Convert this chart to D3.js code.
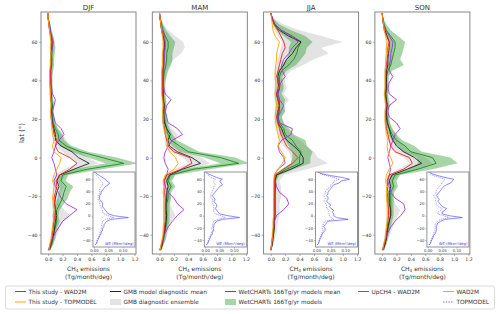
<!DOCTYPE html>
<html>
<head>
<meta charset="utf-8">
<script src="https://cdn.jsdelivr.net/npm/d3@7"></script>
<style>
    body { margin: 0; background: #fff; }
    svg { display: block; font-family: 'DejaVu Sans', sans-serif; }
</style>
</head>
<body>
<svg id="chart" width="500" height="314"></svg>
<script>
// latitude bands (deg), shared by every series below
const lats = [ -48, -45, -42, -39, -36, -33, -30, -27, -24, -21, -18, -15, -12, -9, -6, -3, 0, 3, 6, 9, 12, 15, 18, 21, 24, 27, 30, 33, 36, 39, 42, 45, 48, 51, 54, 57, 60, 63, 66, 69, 72, 75 ];
const seasons = [ 'DJF', 'MAM', 'JJA', 'SON' ];
const xTicks = [ 0, 0.2, 0.4, 0.6, 0.8, 1.0, 1.2 ];
const yTicks = [ -40, -20, 0, 20, 40, 60 ];
const insetXTicks = [ 0, 0.05, 0.10 ];

// CH4 emissions, Tg/month/deg
const studyWad2m_DJF = [ 0.01,0.03,0.05,0.06,0.07,0.08,0.09,0.10,0.09,0.08, 0.10,0.12,0.11,0.16,0.30,0.40,0.30,0.14,0.10,0.12, 0.08,0.07,0.05,0.04,0.04,0.05,0.04,0.03,0.04,0.03, 0.03,0.03,0.04,0.04,0.05,0.04,0.06,0.04,0.02,0.01,0.00,0.00 ];
const studyTop_DJF   = [ 0.01,0.02,0.04,0.05,0.06,0.07,0.08,0.08,0.07,0.06, 0.07,0.08,0.06,0.08,0.12,0.16,0.18,0.08,0.06,0.08, 0.06,0.05,0.05,0.04,0.03,0.04,0.04,0.03,0.03,0.02, 0.02,0.02,0.03,0.03,0.04,0.03,0.04,0.03,0.02,0.01,0.00,0.00 ];
const gmbMean_DJF    = [ 0.01,0.04,0.06,0.08,0.09,0.10,0.12,0.10,0.09,0.10, 0.12,0.15,0.12,0.16,0.36,0.57,0.42,0.33,0.18,0.10, 0.10,0.08,0.06,0.05,0.05,0.05,0.04,0.04,0.03,0.03, 0.03,0.03,0.04,0.04,0.04,0.05,0.05,0.04,0.02,0.01,0.00,0.00 ];
const gmbLo_DJF      = [ 0.00,0.02,0.03,0.04,0.05,0.06,0.06,0.06,0.05,0.06, 0.07,0.08,0.07,0.09,0.22,0.40,0.30,0.20,0.10,0.06, 0.06,0.05,0.03,0.03,0.03,0.03,0.02,0.02,0.02,0.02, 0.02,0.02,0.02,0.02,0.03,0.03,0.03,0.02,0.01,0.00,0.00,0.00 ];
const gmbHi_DJF      = [ 0.02,0.07,0.10,0.14,0.16,0.22,0.30,0.22,0.16,0.15, 0.18,0.22,0.18,0.24,0.48,0.70,0.55,0.45,0.28,0.25, 0.20,0.13,0.10,0.08,0.08,0.08,0.07,0.06,0.05,0.05, 0.05,0.06,0.07,0.07,0.07,0.08,0.08,0.07,0.04,0.02,0.01,0.00 ];
const wetMean_DJF    = [ 0.02,0.05,0.07,0.08,0.10,0.12,0.10,0.12,0.16,0.20, 0.22,0.25,0.18,0.20,0.55,1.05,0.75,0.45,0.25,0.15, 0.14,0.10,0.07,0.06,0.05,0.06,0.05,0.04,0.04,0.04, 0.04,0.04,0.05,0.05,0.05,0.06,0.05,0.04,0.03,0.02,0.00,0.00 ];
const wetLo_DJF      = [ 0.00,0.02,0.04,0.05,0.06,0.07,0.06,0.08,0.10,0.13, 0.15,0.17,0.12,0.14,0.35,0.80,0.55,0.32,0.16,0.10, 0.09,0.06,0.04,0.04,0.03,0.03,0.03,0.02,0.02,0.02, 0.02,0.02,0.03,0.03,0.03,0.03,0.03,0.02,0.01,0.01,0.00,0.00 ];
const wetHi_DJF      = [ 0.03,0.07,0.10,0.11,0.13,0.16,0.14,0.16,0.22,0.27, 0.30,0.35,0.24,0.28,0.75,1.25,0.95,0.55,0.33,0.22, 0.20,0.14,0.10,0.08,0.07,0.08,0.07,0.06,0.06,0.06, 0.06,0.07,0.08,0.08,0.09,0.10,0.09,0.07,0.05,0.03,0.01,0.00 ];
const upch4_DJF      = [ 0.00,0.03,0.06,0.10,0.15,0.20,0.30,0.40,0.25,0.18, 0.14,0.10,0.08,0.12,0.10,0.08,0.05,0.08,0.10,0.15, 0.22,0.18,0.10,0.08,0.06,0.08,0.10,0.06,0.05,0.04, 0.03,0.03,0.04,0.05,0.04,0.06,0.07,0.05,0.03,0.02,0.00,0.00 ];

const studyWad2m_MAM = [ 0.01,0.03,0.05,0.06,0.07,0.08,0.08,0.08,0.08,0.08, 0.07,0.08,0.07,0.10,0.30,0.45,0.42,0.20,0.12,0.10, 0.08,0.07,0.05,0.05,0.06,0.06,0.05,0.04,0.04,0.04, 0.04,0.04,0.05,0.05,0.05,0.06,0.06,0.05,0.03,0.02,0.01,0.00 ];
const studyTop_MAM   = [ 0.01,0.02,0.04,0.05,0.05,0.06,0.06,0.06,0.06,0.06, 0.05,0.06,0.05,0.08,0.20,0.26,0.22,0.14,0.10,0.12, 0.08,0.06,0.05,0.05,0.04,0.05,0.04,0.03,0.03,0.03, 0.03,0.03,0.04,0.04,0.04,0.05,0.05,0.04,0.03,0.02,0.01,0.00 ];
const gmbMean_MAM    = [ 0.01,0.04,0.05,0.07,0.08,0.09,0.10,0.09,0.09,0.10, 0.10,0.12,0.10,0.14,0.32,0.57,0.45,0.25,0.14,0.12, 0.15,0.10,0.07,0.06,0.06,0.07,0.05,0.05,0.05,0.05, 0.05,0.05,0.06,0.06,0.06,0.07,0.07,0.05,0.03,0.02,0.01,0.00 ];
const gmbLo_MAM      = [ 0.00,0.02,0.03,0.04,0.05,0.05,0.05,0.05,0.05,0.05, 0.05,0.06,0.05,0.08,0.20,0.40,0.32,0.15,0.08,0.07, 0.07,0.05,0.04,0.03,0.03,0.04,0.03,0.03,0.03,0.03, 0.03,0.03,0.03,0.03,0.03,0.04,0.04,0.03,0.02,0.01,0.00,0.00 ];
const gmbHi_MAM      = [ 0.02,0.06,0.09,0.12,0.14,0.16,0.22,0.18,0.15,0.16, 0.14,0.18,0.14,0.22,0.48,0.70,0.58,0.38,0.25,0.22, 0.25,0.18,0.12,0.10,0.10,0.11,0.09,0.08,0.08,0.08, 0.09,0.10,0.14,0.20,0.30,0.35,0.33,0.22,0.12,0.06,0.02,0.00 ];
const wetMean_MAM    = [ 0.02,0.04,0.06,0.07,0.09,0.10,0.10,0.10,0.10,0.12, 0.12,0.16,0.12,0.15,0.48,1.10,0.85,0.40,0.28,0.16, 0.12,0.10,0.08,0.07,0.06,0.06,0.06,0.05,0.05,0.05, 0.06,0.07,0.09,0.10,0.10,0.12,0.12,0.08,0.05,0.03,0.01,0.00 ];
const wetLo_MAM      = [ 0.00,0.02,0.04,0.05,0.06,0.07,0.07,0.07,0.07,0.08, 0.09,0.11,0.08,0.10,0.32,0.85,0.62,0.28,0.18,0.10, 0.08,0.06,0.05,0.04,0.04,0.04,0.04,0.03,0.03,0.03, 0.03,0.04,0.04,0.05,0.05,0.06,0.06,0.04,0.02,0.01,0.00,0.00 ];
const wetHi_MAM      = [ 0.03,0.06,0.09,0.10,0.12,0.14,0.14,0.14,0.14,0.16, 0.16,0.22,0.17,0.22,0.70,1.25,1.05,0.55,0.40,0.24, 0.18,0.14,0.11,0.10,0.09,0.09,0.09,0.08,0.08,0.08, 0.10,0.12,0.16,0.18,0.18,0.20,0.22,0.15,0.09,0.05,0.02,0.00 ];
const upch4_MAM      = [ 0.00,0.03,0.05,0.08,0.12,0.18,0.25,0.34,0.25,0.20, 0.12,0.08,0.06,0.10,0.12,0.08,0.06,0.08,0.12,0.18, 0.32,0.25,0.12,0.10,0.08,0.10,0.16,0.08,0.06,0.05, 0.05,0.06,0.06,0.07,0.07,0.08,0.08,0.07,0.04,0.02,0.01,0.00 ];

const studyWad2m_JJA = [ 0.00,0.01,0.02,0.03,0.04,0.04,0.05,0.05,0.05,0.05, 0.05,0.05,0.05,0.06,0.18,0.30,0.38,0.30,0.22,0.18, 0.14,0.12,0.10,0.08,0.10,0.12,0.10,0.08,0.10,0.12, 0.08,0.10,0.12,0.14,0.16,0.20,0.18,0.14,0.10,0.05,0.02,0.00 ];
const studyTop_JJA   = [ 0.00,0.01,0.02,0.02,0.03,0.03,0.04,0.04,0.04,0.04, 0.04,0.04,0.04,0.05,0.10,0.16,0.20,0.15,0.10,0.12, 0.10,0.08,0.07,0.06,0.07,0.08,0.07,0.06,0.07,0.07, 0.06,0.06,0.07,0.08,0.08,0.10,0.12,0.06,0.03,0.02,0.01,0.00 ];
const gmbMean_JJA    = [ 0.00,0.02,0.03,0.04,0.05,0.05,0.06,0.06,0.06,0.06, 0.06,0.06,0.06,0.08,0.28,0.45,0.45,0.40,0.32,0.22, 0.18,0.15,0.10,0.10,0.10,0.12,0.10,0.08,0.12,0.10, 0.10,0.12,0.18,0.22,0.30,0.35,0.42,0.25,0.12,0.05,0.02,0.00 ];
const gmbLo_JJA      = [ 0.00,0.01,0.02,0.02,0.03,0.03,0.03,0.03,0.03,0.03, 0.03,0.03,0.03,0.04,0.15,0.28,0.28,0.25,0.18,0.12, 0.10,0.08,0.05,0.05,0.05,0.06,0.05,0.04,0.05,0.05, 0.05,0.06,0.08,0.10,0.12,0.14,0.16,0.10,0.05,0.02,0.01,0.00 ];
const gmbHi_JJA      = [ 0.01,0.04,0.06,0.08,0.09,0.10,0.12,0.12,0.12,0.14, 0.15,0.14,0.12,0.18,0.50,0.80,0.65,0.60,0.50,0.40, 0.30,0.22,0.18,0.15,0.20,0.20,0.25,0.18,0.22,0.20, 0.20,0.28,0.45,0.60,0.80,0.70,1.00,0.70,0.40,0.18,0.05,0.00 ];
const wetMean_JJA    = [ 0.00,0.02,0.03,0.04,0.04,0.04,0.05,0.05,0.05,0.05, 0.05,0.06,0.06,0.08,0.22,0.40,0.40,0.42,0.35,0.30, 0.20,0.18,0.12,0.10,0.12,0.12,0.12,0.10,0.12,0.12, 0.12,0.15,0.25,0.32,0.36,0.38,0.42,0.30,0.15,0.06,0.02,0.00 ];
const wetLo_JJA      = [ 0.00,0.01,0.02,0.02,0.03,0.03,0.03,0.03,0.03,0.03, 0.04,0.04,0.04,0.05,0.15,0.28,0.30,0.30,0.25,0.20, 0.14,0.12,0.08,0.07,0.08,0.08,0.08,0.07,0.08,0.08, 0.08,0.10,0.15,0.22,0.25,0.25,0.28,0.18,0.08,0.03,0.01,0.00 ];
const wetHi_JJA      = [ 0.01,0.03,0.04,0.05,0.06,0.06,0.07,0.07,0.07,0.07, 0.07,0.08,0.08,0.12,0.32,0.55,0.55,0.58,0.50,0.48, 0.32,0.26,0.18,0.15,0.20,0.18,0.20,0.15,0.18,0.17, 0.16,0.22,0.35,0.42,0.48,0.50,0.58,0.48,0.28,0.12,0.04,0.00 ];
const upch4_JJA      = [ 0.00,0.01,0.02,0.03,0.04,0.05,0.08,0.18,0.25,0.22, 0.12,0.08,0.06,0.05,0.10,0.20,0.18,0.12,0.10,0.15, 0.28,0.30,0.12,0.10,0.14,0.18,0.12,0.10,0.12,0.14, 0.20,0.16,0.15,0.18,0.25,0.30,0.38,0.28,0.15,0.06,0.02,0.00 ];

const studyWad2m_SON = [ 0.01,0.03,0.05,0.06,0.07,0.08,0.09,0.09,0.08,0.08, 0.07,0.08,0.07,0.10,0.30,0.42,0.38,0.18,0.12,0.10, 0.08,0.06,0.05,0.05,0.05,0.06,0.05,0.04,0.05,0.05, 0.05,0.05,0.06,0.07,0.08,0.08,0.10,0.06,0.03,0.02,0.01,0.00 ];
const studyTop_SON   = [ 0.01,0.02,0.04,0.05,0.06,0.07,0.07,0.07,0.07,0.06, 0.06,0.06,0.05,0.06,0.10,0.15,0.12,0.08,0.07,0.08, 0.06,0.05,0.04,0.04,0.04,0.05,0.04,0.03,0.04,0.04, 0.04,0.04,0.05,0.05,0.06,0.06,0.07,0.05,0.03,0.02,0.01,0.00 ];
const gmbMean_SON    = [ 0.01,0.04,0.06,0.07,0.08,0.10,0.12,0.12,0.10,0.10, 0.10,0.12,0.10,0.14,0.35,0.55,0.45,0.30,0.20,0.15, 0.12,0.10,0.07,0.06,0.06,0.07,0.06,0.05,0.06,0.06, 0.06,0.06,0.08,0.08,0.09,0.10,0.10,0.07,0.04,0.02,0.01,0.00 ];
const gmbLo_SON      = [ 0.00,0.02,0.03,0.04,0.05,0.06,0.07,0.07,0.06,0.06, 0.06,0.07,0.06,0.08,0.22,0.38,0.30,0.18,0.12,0.08, 0.07,0.05,0.04,0.03,0.03,0.04,0.03,0.03,0.03,0.03, 0.03,0.03,0.04,0.04,0.05,0.05,0.05,0.04,0.02,0.01,0.00,0.00 ];
const gmbHi_SON      = [ 0.02,0.06,0.09,0.12,0.15,0.18,0.22,0.25,0.18,0.16, 0.15,0.18,0.16,0.22,0.50,0.70,0.60,0.42,0.30,0.22, 0.20,0.15,0.11,0.09,0.09,0.12,0.10,0.08,0.09,0.09, 0.09,0.10,0.13,0.14,0.15,0.16,0.16,0.12,0.06,0.03,0.01,0.00 ];
const wetMean_SON    = [ 0.02,0.04,0.06,0.07,0.09,0.10,0.12,0.12,0.12,0.12, 0.12,0.16,0.14,0.18,0.50,0.75,0.70,0.40,0.32,0.20, 0.14,0.10,0.08,0.07,0.06,0.07,0.06,0.05,0.06,0.06, 0.06,0.08,0.12,0.14,0.16,0.18,0.18,0.12,0.06,0.03,0.01,0.00 ];
const wetLo_SON      = [ 0.00,0.02,0.04,0.05,0.06,0.07,0.08,0.08,0.08,0.08, 0.08,0.11,0.09,0.12,0.35,0.50,0.48,0.28,0.22,0.13, 0.09,0.06,0.05,0.04,0.04,0.04,0.04,0.03,0.04,0.04, 0.04,0.05,0.07,0.08,0.10,0.11,0.11,0.07,0.03,0.01,0.00,0.00 ];
const wetHi_SON      = [ 0.03,0.06,0.08,0.10,0.12,0.14,0.16,0.16,0.16,0.16, 0.17,0.22,0.20,0.25,0.70,1.05,0.95,0.55,0.45,0.28, 0.20,0.14,0.11,0.10,0.09,0.10,0.09,0.08,0.09,0.09, 0.09,0.14,0.30,0.25,0.28,0.30,0.32,0.22,0.12,0.06,0.02,0.00 ];
const upch4_SON      = [ 0.00,0.03,0.05,0.08,0.12,0.18,0.26,0.32,0.30,0.18, 0.12,0.10,0.08,0.10,0.12,0.10,0.08,0.10,0.12,0.15, 0.18,0.25,0.20,0.10,0.08,0.10,0.20,0.10,0.08,0.10, 0.15,0.10,0.10,0.12,0.12,0.14,0.15,0.10,0.05,0.02,0.01,0.00 ];

// wetland extent insets, Mkm2/deg
const weWad2m_DJF = [ 0.005,0.01,0.012,0.015,0.018,0.02,0.025,0.025,0.03,0.03, 0.035,0.035,0.04,0.045,0.06,0.12,0.07,0.05,0.045,0.04, 0.035,0.03,0.03,0.03,0.025,0.02,0.02,0.02,0.025,0.025, 0.03,0.035,0.04,0.05,0.055,0.045,0.04,0.03,0.02,0.01,0.005,0.0 ];
const weTop_DJF   = [ 0.004,0.008,0.01,0.012,0.015,0.018,0.02,0.022,0.025,0.025, 0.03,0.025,0.03,0.03,0.04,0.07,0.05,0.035,0.03,0.03, 0.025,0.025,0.02,0.02,0.02,0.015,0.015,0.015,0.02,0.02, 0.02,0.02,0.025,0.03,0.03,0.025,0.02,0.015,0.01,0.005,0.002,0.0 ];
const weWad2m_MAM = [ 0.005,0.01,0.012,0.015,0.018,0.02,0.025,0.025,0.03,0.028, 0.03,0.03,0.035,0.04,0.06,0.12,0.08,0.05,0.045,0.04, 0.035,0.04,0.04,0.035,0.03,0.035,0.03,0.025,0.03,0.035, 0.04,0.045,0.05,0.06,0.055,0.05,0.06,0.04,0.025,0.01,0.005,0.0 ];
const weTop_MAM   = [ 0.004,0.008,0.01,0.012,0.015,0.018,0.02,0.022,0.025,0.022, 0.025,0.025,0.028,0.03,0.045,0.07,0.055,0.035,0.03,0.03, 0.03,0.03,0.03,0.025,0.025,0.025,0.02,0.02,0.02,0.025, 0.025,0.03,0.03,0.035,0.03,0.03,0.035,0.02,0.012,0.005,0.002,0.0 ];
const weWad2m_JJA = [ 0.004,0.008,0.01,0.012,0.015,0.018,0.02,0.025,0.03,0.03, 0.025,0.03,0.035,0.04,0.11,0.07,0.06,0.06,0.055,0.06, 0.05,0.045,0.05,0.04,0.035,0.04,0.04,0.035,0.04,0.04, 0.045,0.05,0.055,0.06,0.08,0.085,0.115,0.09,0.05,0.02,0.005,0.0 ];
const weTop_JJA   = [ 0.003,0.006,0.008,0.01,0.012,0.015,0.018,0.02,0.022,0.02, 0.02,0.022,0.025,0.03,0.06,0.05,0.045,0.045,0.04,0.045, 0.035,0.035,0.035,0.03,0.025,0.03,0.03,0.025,0.03,0.03, 0.035,0.04,0.05,0.05,0.06,0.06,0.08,0.06,0.035,0.015,0.004,0.0 ];
const weWad2m_SON = [ 0.005,0.01,0.012,0.015,0.018,0.02,0.025,0.028,0.03,0.03, 0.03,0.032,0.035,0.045,0.06,0.12,0.075,0.05,0.05,0.06, 0.065,0.05,0.045,0.04,0.035,0.04,0.035,0.03,0.035,0.04, 0.045,0.05,0.055,0.065,0.08,0.085,0.09,0.06,0.035,0.015,0.005,0.0 ];
const weTop_SON   = [ 0.004,0.008,0.01,0.012,0.015,0.018,0.02,0.022,0.025,0.025, 0.025,0.025,0.028,0.035,0.045,0.075,0.055,0.035,0.035,0.045, 0.05,0.035,0.03,0.03,0.025,0.03,0.025,0.02,0.025,0.03, 0.03,0.035,0.04,0.045,0.05,0.055,0.06,0.04,0.02,0.008,0.003,0.0 ];

const table = {
    DJF: { red: studyWad2m_DJF, orange: studyTop_DJF, gmb: gmbMean_DJF, gmbLo: gmbLo_DJF, gmbHi: gmbHi_DJF, wet: wetMean_DJF, wetLo: wetLo_DJF, wetHi: wetHi_DJF, up: upch4_DJF, weW: weWad2m_DJF, weT: weTop_DJF },
    MAM: { red: studyWad2m_MAM, orange: studyTop_MAM, gmb: gmbMean_MAM, gmbLo: gmbLo_MAM, gmbHi: gmbHi_MAM, wet: wetMean_MAM, wetLo: wetLo_MAM, wetHi: wetHi_MAM, up: upch4_MAM, weW: weWad2m_MAM, weT: weTop_MAM },
    JJA: { red: studyWad2m_JJA, orange: studyTop_JJA, gmb: gmbMean_JJA, gmbLo: gmbLo_JJA, gmbHi: gmbHi_JJA, wet: wetMean_JJA, wetLo: wetLo_JJA, wetHi: wetHi_JJA, up: upch4_JJA, weW: weWad2m_JJA, weT: weTop_JJA },
    SON: { red: studyWad2m_SON, orange: studyTop_SON, gmb: gmbMean_SON, gmbLo: gmbLo_SON, gmbHi: gmbHi_SON, wet: wetMean_SON, wetLo: wetLo_SON, wetHi: wetHi_SON, up: upch4_SON, weW: weWad2m_SON, weT: weTop_SON }
};

const colors = {
    red: '#ff1a1a', orange: '#ffa500', gmb: '#222222', band: '#bdbdbd',
    wet: '#1b8a1b', wetBand: '#2e9b2e', up: '#a133e6', blue: '#3c3cff', axis: '#7a7a7a', text: '#333333'
};

const panelLeft = 41, panelStep = 111.3, panelW = 95, panelTop = 12, panelBottom = 254;
const inset = { left: 52, right: 94, top: 172, bottom: 247 };

const svg = d3.select( '#chart' );
const defs = svg.append( 'defs' );

const xScale = d3.scaleLinear().domain( [ -0.1, 1.22 ] ).range( [ 0, panelW ] );
const yScale = d3.scaleLinear().domain( [ -50, 75.5 ] ).range( [ panelBottom, panelTop ] );
const ixScale = d3.scaleLinear().domain( [ -0.003, 0.143 ] ).range( [ inset.left, inset.right ] );
const iyScale = d3.scaleLinear().domain( [ -51.5, 72 ] ).range( [ inset.bottom, inset.top ] );

const lineOf = ( vals, xs, ys ) => d3.line()
    .x( ( _, k ) => xs( vals[ k ] ) )
    .y( ( _, k ) => ys( lats[ k ] ) )( lats );

const bandOf = ( lo, hi ) => d3.area()
    .y( ( _, k ) => yScale( lats[ k ] ) )
    .x0( ( _, k ) => xScale( lo[ k ] ) )
    .x1( ( _, k ) => xScale( hi[ k ] ) )( lats );

const minus = d => d < 0 ? '\u2212' + Math.abs( d ) : String( d );

seasons.forEach( ( season, i ) => {
    const d = table[ season ];
    const g = svg.append( 'g' )
        .attr( 'transform', `translate(${ panelLeft + i * panelStep }, 0)` );

    defs.append( 'clipPath' ).attr( 'id', 'clip' + i )
        .append( 'rect' )
        .attr( 'x', 0 ).attr( 'y', panelTop )
        .attr( 'width', panelW ).attr( 'height', panelBottom - panelTop );

    const plot = g.append( 'g' ).attr( 'clip-path', `url(#clip${ i })` );

    plot.append( 'path' ).attr( 'd', bandOf( d.gmbLo, d.gmbHi ) )
        .attr( 'fill', colors.band ).attr( 'opacity', 0.42 );
    plot.append( 'path' ).attr( 'd', bandOf( d.wetLo, d.wetHi ) )
        .attr( 'fill', colors.wetBand ).attr( 'opacity', 0.42 );

    const series = [
        [ d.wet, colors.wet ], [ d.gmb, colors.gmb ], [ d.up, colors.up ],
        [ d.red, colors.red ], [ d.orange, colors.orange ]
    ];
    series.forEach( ( [ vals, c ] ) => {
        plot.append( 'path' ).attr( 'd', lineOf( vals, xScale, yScale ) )
            .attr( 'fill', 'none' ).attr( 'stroke', c )
            .attr( 'stroke-width', 0.9 ).attr( 'stroke-linejoin', 'round' );
    } );

    // axes
    const yAxis = g.append( 'g' )
        .call( d3.axisLeft( yScale ).tickValues( yTicks ).tickSize( 2 ).tickPadding( 1.5 ).tickFormat( minus ) );
    const xAxis = g.append( 'g' )
        .attr( 'transform', `translate(0, ${ panelBottom })` )
        .call( d3.axisBottom( xScale ).tickValues( xTicks ).tickSize( 2 ).tickPadding( 1.5 ).tickFormat( d3.format( '.1f' ) ) );
    [ xAxis, yAxis ].forEach( a => {
        a.select( '.domain' ).remove();
        a.selectAll( 'line' ).attr( 'stroke', colors.axis ).attr( 'stroke-width', 0.6 );
        a.selectAll( 'text' ).attr( 'font-size', 4.6 ).attr( 'fill', colors.text ).attr( 'font-family', 'DejaVu Sans' );
    } );

    g.append( 'rect' )
        .attr( 'x', 0 ).attr( 'y', panelTop )
        .attr( 'width', panelW ).attr( 'height', panelBottom - panelTop )
        .attr( 'fill', 'none' ).attr( 'stroke', colors.axis ).attr( 'stroke-width', 0.9 );

    g.append( 'text' )
        .attr( 'x', panelW / 2 ).attr( 'y', 9.5 )
        .attr( 'text-anchor', 'middle' ).attr( 'font-size', 7 ).attr( 'fill', colors.text )
        .text( season );

    const xl = g.append( 'text' )
        .attr( 'x', panelW / 2 ).attr( 'y', 270.5 )
        .attr( 'text-anchor', 'middle' ).attr( 'font-size', 6 ).attr( 'fill', colors.text );
    xl.append( 'tspan' ).text( 'CH' );
    xl.append( 'tspan' ).attr( 'font-size', 4.2 ).attr( 'dy', 1.4 ).text( '4' );
    xl.append( 'tspan' ).attr( 'dy', -1.4 ).text( ' emissions' );
    g.append( 'text' )
        .attr( 'x', panelW / 2 ).attr( 'y', 278.5 )
        .attr( 'text-anchor', 'middle' ).attr( 'font-size', 6 ).attr( 'fill', colors.text )
        .text( '(Tg/month/deg)' );

    // wetland extent inset
    const ig = g.append( 'g' );
    ig.append( 'rect' )
        .attr( 'x', inset.left ).attr( 'y', inset.top )
        .attr( 'width', inset.right - inset.left ).attr( 'height', inset.bottom - inset.top )
        .attr( 'fill', '#fff' );
    defs.append( 'clipPath' ).attr( 'id', 'iclip' + i )
        .append( 'rect' )
        .attr( 'x', inset.left ).attr( 'y', inset.top )
        .attr( 'width', inset.right - inset.left ).attr( 'height', inset.bottom - inset.top );
    const ip = ig.append( 'g' ).attr( 'clip-path', `url(#iclip${ i })` );
    ip.append( 'path' ).attr( 'd', lineOf( d.weT, ixScale, iyScale ) )
        .attr( 'fill', 'none' ).attr( 'stroke', colors.blue ).attr( 'stroke-width', 0.6 )
        .attr( 'stroke-dasharray', '1.2,0.9' ).attr( 'opacity', 0.8 );
    ip.append( 'path' ).attr( 'd', lineOf( d.weW, ixScale, iyScale ) )
        .attr( 'fill', 'none' ).attr( 'stroke', colors.blue ).attr( 'stroke-width', 0.7 ).attr( 'opacity', 0.85 );

    const iyAxis = ig.append( 'g' )
        .attr( 'transform', `translate(${ inset.left }, 0)` )
        .call( d3.axisLeft( iyScale ).tickValues( yTicks ).tickSize( 1.5 ).tickPadding( 1 ).tickFormat( minus ) );
    const ixAxis = ig.append( 'g' )
        .attr( 'transform', `translate(0, ${ inset.bottom })` )
        .call( d3.axisBottom( ixScale ).tickValues( insetXTicks ).tickSize( 1.5 ).tickPadding( 0.8 ).tickFormat( d3.format( '.2f' ) ) );
    [ ixAxis, iyAxis ].forEach( a => {
        a.select( '.domain' ).remove();
        a.selectAll( 'line' ).attr( 'stroke', colors.axis ).attr( 'stroke-width', 0.5 );
        a.selectAll( 'text' ).attr( 'font-size', 3.8 ).attr( 'fill', colors.text ).attr( 'font-family', 'DejaVu Sans' );
    } );
    ig.append( 'rect' )
        .attr( 'x', inset.left ).attr( 'y', inset.top )
        .attr( 'width', inset.right - inset.left ).attr( 'height', inset.bottom - inset.top )
        .attr( 'fill', 'none' ).attr( 'stroke', colors.axis ).attr( 'stroke-width', 0.8 );
    ig.append( 'text' )
        .attr( 'x', inset.right - 1.5 ).attr( 'y', inset.bottom - 1.8 )
        .attr( 'text-anchor', 'end' ).attr( 'font-size', 3.7 ).attr( 'fill', colors.blue )
        .text( 'WE (Mkm\u00b2/deg)' );
} );

svg.append( 'text' )
    .attr( 'transform', `translate(24, ${ ( panelTop + panelBottom ) / 2 }) rotate(-90)` )
    .attr( 'text-anchor', 'middle' ).attr( 'font-size', 7 ).attr( 'fill', colors.text )
    .text( 'lat (\u00b0)' );

// legend
const legendItems = [
    { label: 'This study - WAD2M', kind: 'line', color: colors.red, col: 0, row: 0 },
    { label: 'This study - TOPMODEL', kind: 'line', color: colors.orange, col: 0, row: 1 },
    { label: 'GMB model diagnostic mean', kind: 'line', color: colors.gmb, col: 1, row: 0 },
    { label: 'GMB diagnostic ensemble', kind: 'patch', color: colors.band, opacity: 0.42, col: 1, row: 1 },
    { label: 'WetCHARTs 166Tg/yr models mean', kind: 'line', color: colors.wet, col: 2, row: 0 },
    { label: 'WetCHARTs 166Tg/yr models', kind: 'patch', color: colors.wetBand, opacity: 0.42, col: 2, row: 1 },
    { label: 'UpCH4 - WAD2M', kind: 'line', color: colors.up, col: 3, row: 0 },
    { label: 'WAD2M', kind: 'line', color: colors.blue, opacity: 0.45, col: 4, row: 0 },
    { label: 'TOPMODEL', kind: 'dash', color: colors.blue, opacity: 0.7, col: 4, row: 1 }
];
const legendCols = [ 15, 110, 225, 358, 443 ];
const legendRows = [ 291.5, 302 ];

svg.append( 'rect' )
    .attr( 'x', 5.5 ).attr( 'y', 286 ).attr( 'width', 489 ).attr( 'height', 23 ).attr( 'rx', 2 )
    .attr( 'fill', '#fff' ).attr( 'stroke', '#d0d0d0' ).attr( 'stroke-width', 0.8 );

const legend = svg.selectAll( '.legend-item' )
    .data( legendItems )
    .enter()
    .append( 'g' )
    .attr( 'class', 'legend-item' )
    .attr( 'transform', d => `translate(${ legendCols[ d.col ] }, ${ legendRows[ d.row ] })` );

legend.each( function( d ) {
    const el = d3.select( this );
    if ( d.kind === 'patch' ) {
        el.append( 'rect' ).attr( 'x', 0 ).attr( 'y', -3 ).attr( 'width', 11 ).attr( 'height', 6 )
            .attr( 'fill', d.color ).attr( 'opacity', d.opacity );
    } else {
        el.append( 'line' ).attr( 'x1', 0 ).attr( 'x2', 11 ).attr( 'y1', 0 ).attr( 'y2', 0 )
            .attr( 'stroke', d.color ).attr( 'stroke-width', 1 )
            .attr( 'stroke-dasharray', d.kind === 'dash' ? '1.5,1.2' : null )
            .attr( 'opacity', d.opacity || 1 );
    }
    el.append( 'text' ).attr( 'x', 13.5 ).attr( 'y', 2.1 )
        .attr( 'font-size', 5.8 ).attr( 'fill', colors.text ).text( d.label );
} );
</script>
</body>
</html>
